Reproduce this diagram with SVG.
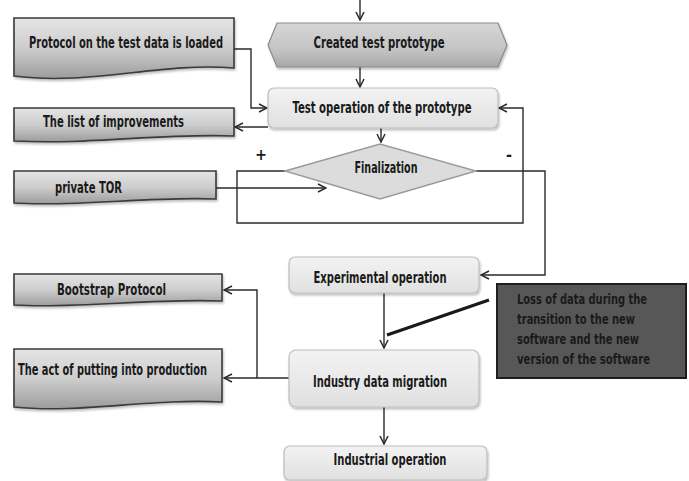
<svg xmlns="http://www.w3.org/2000/svg" width="689" height="481" viewBox="0 0 689 481">
<style>
.t{font-family:"DejaVu Sans Condensed","Liberation Sans Narrow","Liberation Sans",sans-serif;font-weight:bold;font-size:16px;fill:#1a1a1a}
.n{font-size:14px}
.c{text-anchor:middle}
.doc{fill:url(#gdoc);stroke:#3a3a3a;stroke-width:1.6;filter:url(#sh)}
.rb{fill:url(#grb);stroke:#bdbdbd;stroke-width:1.2;filter:url(#sh)}
.ln{fill:none;stroke:#2a2a2a;stroke-width:1.4}
.ar{marker-end:url(#ah)}
</style>
<defs>
<linearGradient id="gdoc" x1="0" y1="0" x2="0" y2="1">
<stop offset="0" stop-color="#e4e4e4"/><stop offset="0.5" stop-color="#cdcdcd"/><stop offset="1" stop-color="#9c9c9c"/>
</linearGradient>
<linearGradient id="grb" x1="0" y1="0" x2="0" y2="1">
<stop offset="0" stop-color="#f3f3f3"/><stop offset="1" stop-color="#e0e0e0"/>
</linearGradient>
<linearGradient id="ghex" x1="0" y1="0" x2="0" y2="1">
<stop offset="0" stop-color="#d6d6d6"/><stop offset="0.6" stop-color="#c4c4c4"/><stop offset="1" stop-color="#a8a8a8"/>
</linearGradient>
<filter id="sh" x="-5%" y="-10%" width="112%" height="130%">
<feDropShadow dx="1" dy="2" stdDeviation="1.2" flood-color="#000" flood-opacity="0.25"/>
</filter>
<marker id="ah" viewBox="0 0 10 10" refX="9" refY="5" markerWidth="10" markerHeight="10" markerUnits="userSpaceOnUse" orient="auto">
<path d="M1,1 L9,5 L1,9" fill="none" stroke="#2a2a2a" stroke-width="1.5"/>
</marker>
</defs>
<rect width="689" height="481" fill="#ffffff"/>

<g id="connectors">
<path class="ln ar" d="M360,0 V20"/>
<path class="ln ar" d="M360,67 V87"/>
<path class="ln ar" d="M234,49 H251 V108 H267"/>
<path class="ln ar" d="M268,127 H235"/>
<path class="ln ar" d="M381,128 V142"/>
<path class="ln ar" d="M285,171 H237 V223 H523 V108 H499"/>
<path class="ln ar" d="M216,188 H326"/>
<path class="ln ar" d="M476,171 H545 V275 H481"/>
<path class="ln ar" d="M384,293 V348"/>
<path fill="none" stroke="#1a1a1a" stroke-width="3.2" d="M489,300 L387,335"/>
<path class="ln ar" d="M289,378 H257 V290 H224"/>
<path class="ln ar" d="M257,378 H224"/>
<path class="ln ar" d="M384,407 V444"/>
</g>

<g id="created-test-prototype">
<polygon points="268,45 277,23 498,23 507,45 498,67 277,67" fill="url(#ghex)" stroke="#8a8a8a" stroke-width="1.2" filter="url(#sh)"/>
<text class="t c" x="379" y="48" textLength="131" lengthAdjust="spacingAndGlyphs">Created test prototype</text>
</g>

<g id="protocol-loaded">
<path class="doc" d="M14,18 H234 V68 C160,62 90,86 14,76 Z"/>
<text class="t" x="29" y="48" textLength="194" lengthAdjust="spacingAndGlyphs">Protocol on the test data is loaded</text>
</g>

<g id="test-operation">
<rect class="rb" x="268" y="88" width="230" height="40" rx="6"/>
<text class="t c" x="382" y="113" textLength="179" lengthAdjust="spacingAndGlyphs">Test operation of the prototype</text>
</g>

<g id="list-improvements">
<path class="doc" d="M14,108 H234 V136 C160,133 90,145 14,141 Z"/>
<text class="t" x="43" y="127" textLength="141" lengthAdjust="spacingAndGlyphs">The list of improvements</text>
</g>

<g id="finalization">
<polygon points="285,171 380,144 476,171 380,199" fill="#dcdcdc" stroke="#9a9a9a" stroke-width="1.4"/>
<text class="t c" x="386" y="173" textLength="63" lengthAdjust="spacingAndGlyphs">Finalization</text>
<text class="t c" x="261" y="160">+</text>
<text class="t c" x="509" y="160">-</text>
</g>

<g id="private-tor">
<path class="doc" d="M14,171 H216 V199 C150,196 80,207 14,203 Z"/>
<text class="t" x="55" y="193" textLength="67" lengthAdjust="spacingAndGlyphs">private TOR</text>
</g>

<g id="experimental-operation">
<rect class="rb" x="289" y="257" width="190" height="36" rx="6"/>
<text class="t c" x="380" y="283" textLength="133" lengthAdjust="spacingAndGlyphs">Experimental operation</text>
</g>

<g id="loss-note">
<rect x="497" y="284" width="189" height="94" fill="#575757" stroke="#1e1e1e" stroke-width="2"/>
<text class="t n" x="517" y="304" textLength="130" lengthAdjust="spacingAndGlyphs">Loss of data during the</text>
<text class="t n" x="517" y="324" textLength="118" lengthAdjust="spacingAndGlyphs">transition to the new</text>
<text class="t n" x="517" y="344" textLength="122" lengthAdjust="spacingAndGlyphs">software and the new</text>
<text class="t n" x="517" y="364" textLength="133" lengthAdjust="spacingAndGlyphs">version of the software</text>
</g>

<g id="bootstrap-protocol">
<path class="doc" d="M14,274 H222 V301 C150,298 80,309 14,305 Z"/>
<text class="t" x="57" y="295" textLength="109" lengthAdjust="spacingAndGlyphs">Bootstrap Protocol</text>
</g>

<g id="act-production">
<path class="doc" d="M14,349 H222 V402 C150,398 80,414 14,407 Z"/>
<text class="t" x="18" y="375" textLength="189" lengthAdjust="spacingAndGlyphs">The act of putting into production</text>
</g>

<g id="industry-data-migration">
<rect class="rb" x="289" y="350" width="190" height="57" rx="7"/>
<text class="t c" x="380" y="387" textLength="134" lengthAdjust="spacingAndGlyphs">Industry data migration</text>
</g>

<g id="industrial-operation">
<rect class="rb" x="284" y="446" width="203" height="34" rx="6"/>
<text class="t c" x="390" y="465" textLength="113" lengthAdjust="spacingAndGlyphs">Industrial operation</text>
</g>
</svg>
